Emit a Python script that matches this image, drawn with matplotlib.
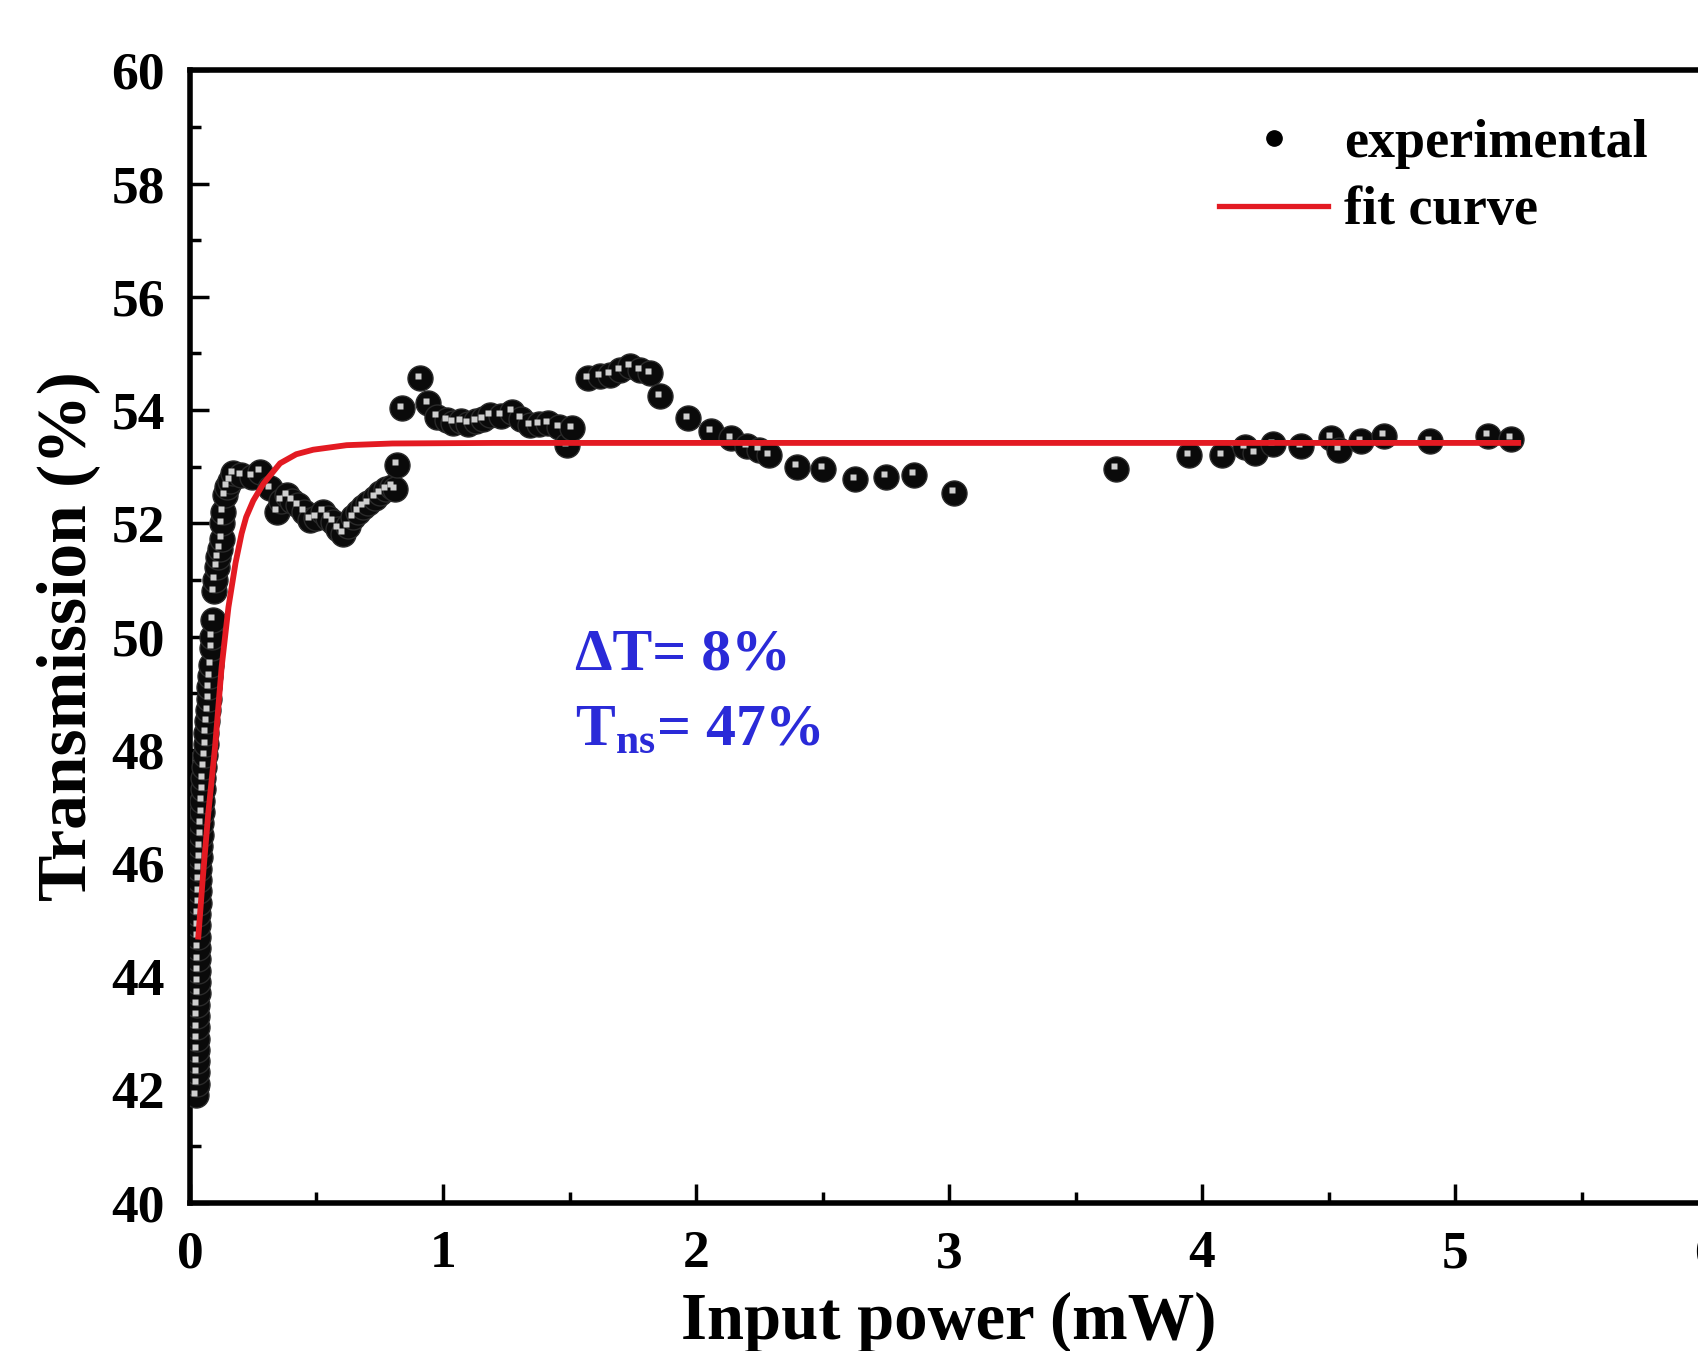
import matplotlib
matplotlib.use("Agg")
import matplotlib.pyplot as plt
from matplotlib.lines import Line2D
from matplotlib.transforms import offset_copy

plt.rcParams['font.family'] = ['Liberation Serif', 'DejaVu Serif']
plt.rcParams['font.weight'] = 'bold'
plt.rcParams['mathtext.fontset'] = 'custom'
plt.rcParams['mathtext.rm'] = 'Liberation Serif:bold'
plt.rcParams['mathtext.bf'] = 'Liberation Serif:bold'
plt.rcParams['mathtext.it'] = 'Liberation Serif:bold'

# experimental points (input power in mW, transmission in %)
power_exp = [
    0.025, 0.026, 0.026, 0.027, 0.027, 0.028, 0.028, 0.029, 0.029, 0.030,
    0.030, 0.031, 0.031, 0.032, 0.032, 0.033, 0.033, 0.034, 0.035, 0.036,
    0.037, 0.038, 0.040, 0.042, 0.044, 0.046, 0.048, 0.050, 0.053, 0.056,
    0.059, 0.062, 0.065, 0.068, 0.071, 0.074, 0.077, 0.080, 0.083, 0.085,
    0.086, 0.090, 0.094, 0.099, 0.105, 0.112, 0.118, 0.125, 0.128, 0.132,
    0.138, 0.148, 0.160, 0.171,
    0.200, 0.244, 0.277, 0.316, 0.342, 0.360, 0.382, 0.405, 0.428, 0.450,
    0.474, 0.500, 0.527, 0.546, 0.566, 0.586, 0.606, 0.625, 0.645, 0.665,
    0.685, 0.705, 0.730, 0.751, 0.775, 0.797, 0.810, 0.817,
    0.836, 0.909, 0.942, 0.975, 1.014, 1.040, 1.070, 1.100, 1.130, 1.160,
    1.186, 1.230, 1.271, 1.310, 1.344, 1.380, 1.416, 1.460, 1.489, 1.509,
    1.574, 1.620, 1.660, 1.700, 1.739, 1.780, 1.818, 1.858, 1.970, 2.060,
    2.140, 2.200, 2.250, 2.290, 2.400, 2.500, 2.630, 2.750, 2.860, 3.020,
    3.660, 3.950, 4.080, 4.170, 4.210, 4.280, 4.390, 4.510, 4.540, 4.630,
    4.720, 4.900, 5.130, 5.220,
]
trans_exp = [
    41.9, 42.1, 42.3, 42.5, 42.7, 42.9, 43.1, 43.3, 43.5, 43.7,
    43.9, 44.1, 44.3, 44.5, 44.7, 44.9, 45.1, 45.3, 45.5, 45.7,
    45.9, 46.1, 46.3, 46.5, 46.7, 46.9, 47.1, 47.3, 47.5, 47.7,
    47.9, 48.1, 48.3, 48.5, 48.7, 48.9, 49.1, 49.3, 49.5, 49.8,
    50.0, 50.3, 50.8, 51.0, 51.23, 51.4, 51.55, 51.73, 52.0, 52.2,
    52.5, 52.65, 52.75, 52.88,
    52.85, 52.82, 52.91, 52.62, 52.2, 52.4, 52.5, 52.4, 52.32, 52.2,
    52.06, 52.1, 52.2, 52.1, 52.03, 51.9, 51.82, 51.95, 52.11, 52.2,
    52.29, 52.35, 52.45, 52.53, 52.6, 52.65, 52.6, 53.03,
    54.03, 54.56, 54.12, 53.88, 53.82, 53.78, 53.8, 53.76, 53.8, 53.84,
    53.91, 53.9, 53.97, 53.85, 53.73, 53.75, 53.77, 53.7, 53.38, 53.68,
    54.56, 54.6, 54.62, 54.7, 54.77, 54.7, 54.65, 54.24, 53.86, 53.63,
    53.5, 53.36, 53.3, 53.2, 53.0, 52.96, 52.78, 52.82, 52.86, 52.54,
    52.96, 53.2, 53.2, 53.34, 53.24, 53.4, 53.36, 53.51, 53.3, 53.45,
    53.55, 53.45, 53.55, 53.49,
]

# fit curve
power_fit = [0.033, 0.050, 0.072, 0.099, 0.125, 0.152, 0.180, 0.204, 0.222,
             0.250, 0.290, 0.356, 0.420, 0.487, 0.619, 0.800, 1.200, 5.250]
trans_fit = [44.7, 45.7, 46.87, 48.05, 49.46, 50.52, 51.3, 51.82, 52.11,
             52.4, 52.7, 53.06, 53.22, 53.30, 53.38, 53.41, 53.42, 53.42]

x_ticks = [0, 1, 2, 3, 4, 5, 6]
y_ticks = [40, 42, 44, 46, 48, 50, 52, 54, 56, 58, 60]

fig = plt.figure(figsize=(16.99, 13.51), dpi=100)
ax = fig.add_axes([0.11183, 0.10977, 0.89347, 0.83813])

ax.plot(power_exp, trans_exp, 'o', ms=18, mfc='#0a0a0a', mec='#2a2a2a',
        mew=1.0, zorder=3)
# small highlight so the points look like little spheres
hl = offset_copy(ax.transData, fig=fig, x=-2.0, y=2.5, units='dots')
ax.plot(power_exp, trans_exp, 's', ms=3.8, mfc='#cfcfcf', mec='none',
        transform=hl, zorder=4)
ax.plot(power_fit, trans_fit, '-', color='#e31a22', lw=4.2, zorder=5)

ax.set_xlim(0, 6)
ax.set_ylim(40, 60)
ax.set_xticks(x_ticks)
ax.set_yticks(y_ticks)
ax.set_xticks([0.5, 1.5, 2.5, 3.5, 4.5, 5.5], minor=True)
ax.set_yticks(list(range(41, 60, 2)), minor=True)

for side in ['left', 'bottom', 'top', 'right']:
    ax.spines[side].set_linewidth(4.0)
ax.tick_params(which='major', direction='in', length=14, width=2.5,
               labelsize=38.5, pad=18, top=False, right=False)
ax.tick_params(which='minor', direction='in', length=8, width=2.5,
               top=False, right=False)
ax.tick_params(axis='x', which='major', pad=20)

ax.set_xlabel('Input power (mW)', fontsize=48, fontweight='bold', labelpad=9)
ax.set_ylabel('Transmission (%)', fontsize=50, fontweight='bold', labelpad=8)

blue = '#2a2ad8'
ax.text(1.52, 49.67, '\u0394T= 8%', fontsize=43, fontweight='bold',
        color=blue, va='center', ha='left')
ax.text(1.52, 48.33, r'$\mathrm{T_{ns}}$= 47%', fontsize=43,
        fontweight='bold', color=blue, va='center', ha='left')

handles = [
    Line2D([], [], marker='o', ls='none', ms=11, mfc='black', mec='black'),
    Line2D([], [], color='#e31a22', lw=3.8),
]
ax.legend(handles, ['experimental', 'fit curve'], loc='upper left',
          bbox_to_anchor=(0.646, 1.0), frameon=False,
          handlelength=2.0, handletextpad=0.3, labelspacing=0.32,
          prop={'family': 'Liberation Serif', 'weight': 'bold', 'size': 39})

fig.savefig('out.png', dpi=100)
